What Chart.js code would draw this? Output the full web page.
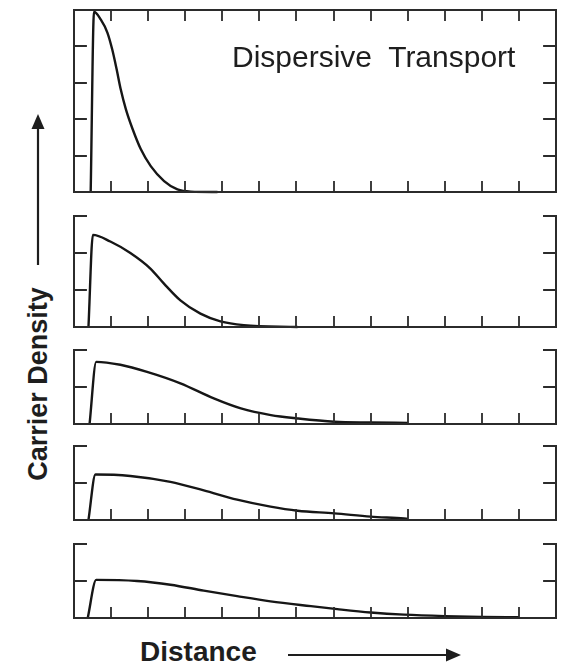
<!DOCTYPE html>
<html>
<head>
<meta charset="utf-8">
<script src="https://cdn.jsdelivr.net/npm/chart.js@4.4.1/dist/chart.umd.min.js"></script>
<style>
  html, body { margin: 0; padding: 0; background: #fff; }
  #page { position: relative; width: 565px; height: 667px; overflow: hidden; font-family: "Liberation Sans", Arial, sans-serif; color: #1e1e1e; }
  canvas { position: absolute; }
  .lbl { position: absolute; line-height: 1; white-space: pre; }
  #note { left: 232px; top: 42px; font-size: 30px; }
  #ylab { left: 38px; top: 384px; font-size: 27px; font-weight: bold; transform: translate(-50%, -50%) rotate(-90deg); }
  #xlab { left: 140px; top: 638px; font-size: 28px; font-weight: bold; }
  #arrows { position: absolute; left: 0; top: 0; }
</style>
</head>
<body>
<div id="page">
  <canvas id="p1"></canvas>
  <canvas id="p2"></canvas>
  <canvas id="p3"></canvas>
  <canvas id="p4"></canvas>
  <canvas id="p5"></canvas>
  <div class="lbl" id="note">Dispersive  Transport</div>
  <div class="lbl" id="ylab">Carrier Density</div>
  <div class="lbl" id="xlab">Distance</div>
  <svg id="arrows" width="565" height="667">
    <line x1="38" y1="265" x2="38" y2="126" stroke="#1e1e1e" stroke-width="2.2"/>
    <polygon points="38,114 31.5,129 44.5,129" fill="#1e1e1e"/>
    <line x1="288" y1="655" x2="449" y2="655" stroke="#1e1e1e" stroke-width="2.2"/>
    <polygon points="461,655 446,648.5 446,661.5" fill="#1e1e1e"/>
  </svg>
</div>
<script>
// distance (x) in tick units, 0..13
const xTicks = [1, 2, 3, 4, 5, 6, 7, 8, 9, 10, 11, 12];

// panel 1 (earliest time)
const dist1 = [0.45, 0.54, 0.72, 0.90, 1.03, 1.15, 1.26, 1.40, 1.58, 1.80, 2.07, 2.43, 2.79, 3.15, 3.87];
const dens1 = [0, 4.95, 4.74, 4.38, 3.92, 3.37, 2.82, 2.27, 1.73, 1.18, 0.71, 0.30, 0.07, 0.01, 0];
const yTicks1 = [1, 2, 3, 4];

// panel 2
const dist2 = [0.39, 0.51, 0.98, 1.52, 2.06, 2.42, 2.87, 3.41, 3.95, 4.58, 6.03];
const dens2 = [0, 2.49, 2.31, 2.00, 1.58, 1.18, 0.72, 0.36, 0.15, 0.05, 0];
const yTicks2 = [1, 2];

// panel 3
const dist3 = [0.42, 0.60, 1.25, 1.97, 2.87, 3.77, 4.50, 5.31, 6.03, 7.02, 8.0, 9.0];
const dens3 = [0, 1.68, 1.60, 1.41, 1.10, 0.69, 0.42, 0.24, 0.15, 0.06, 0.04, 0.03];
const yTicks3 = [1];

// panel 4
const dist4 = [0.39, 0.58, 1.52, 2.60, 3.50, 4.40, 5.30, 6.03, 7.02, 8.0, 8.9, 9.0];
const dens4 = [0, 1.23, 1.19, 1.03, 0.80, 0.55, 0.36, 0.25, 0.18, 0.09, 0.04, 0.03];
const yTicks4 = [1];

// panel 5 (latest time)
const dist5 = [0.37, 0.60, 1.70, 2.60, 3.50, 4.40, 5.30, 6.39, 7.10, 8.0, 8.9, 10.0, 11.0, 12.0];
const dens5 = [0, 1.03, 1.00, 0.90, 0.74, 0.59, 0.45, 0.32, 0.24, 0.15, 0.09, 0.05, 0.03, 0.02];
const yTicks5 = [1];

const PAD = 6;
const LEFT = 74, RIGHT = 556;

const framePlugin = {
  id: 'frame',
  afterDatasetsDraw(chart, args, opts) {
    const { ctx, chartArea: a, scales: { x, y } } = chart;
    const tx = 10, ty = 12; // tick lengths (vertical / horizontal)
    ctx.save();
    ctx.strokeStyle = '#2b2b2b';
    ctx.lineWidth = 2;
    ctx.lineCap = 'square';
    ctx.beginPath();
    ctx.moveTo(a.left, a.top);
    ctx.lineTo(a.left, a.bottom);
    ctx.lineTo(a.right, a.bottom);
    ctx.lineTo(a.right, a.top);
    if (opts.closed) {
      ctx.lineTo(a.left, a.top);
    } else {
      ctx.lineTo(a.right - ty, a.top);
      ctx.moveTo(a.left, a.top);
      ctx.lineTo(a.left + ty, a.top);
    }
    ctx.stroke();

    ctx.lineWidth = 1.8;
    ctx.beginPath();
    xTicks.forEach(v => {
      const px = Math.round(x.getPixelForValue(v));
      ctx.moveTo(px, a.bottom);
      ctx.lineTo(px, a.bottom - tx);
      if (opts.closed) {
        ctx.moveTo(px, a.top);
        ctx.lineTo(px, a.top + tx);
      }
    });
    opts.yTicks.forEach(v => {
      const py = Math.round(y.getPixelForValue(v));
      ctx.moveTo(a.left, py);
      ctx.lineTo(a.left + ty, py);
      ctx.moveTo(a.right, py);
      ctx.lineTo(a.right - ty, py);
    });
    ctx.stroke();
    ctx.restore();
  }
};

function makePanel(id, top, bottom, yMax, dist, dens, yTicks, closed) {
  const cv = document.getElementById(id);
  cv.width = RIGHT - LEFT + 2 * PAD;
  cv.height = bottom - top + 2 * PAD;
  cv.style.left = (LEFT - PAD) + 'px';
  cv.style.top = (top - PAD) + 'px';
  return new Chart(cv, {
    type: 'line',
    data: {
      datasets: [{
        data: dist.map((d, i) => ({ x: d, y: dens[i] })),
        borderColor: '#161616',
        borderWidth: 2.4,
        pointRadius: 0,
        fill: false,
        cubicInterpolationMode: 'monotone',
        clip: 4
      }]
    },
    options: {
      responsive: false,
      animation: false,
      layout: { padding: PAD },
      plugins: {
        legend: { display: false },
        tooltip: { enabled: false },
        frame: { closed: closed, yTicks: yTicks }
      },
      scales: {
        x: { type: 'linear', min: 0, max: 13, display: false },
        y: { type: 'linear', min: 0, max: yMax, display: false }
      }
    },
    plugins: [framePlugin]
  });
}

makePanel('p1', 10, 192, 5, dist1, dens1, yTicks1, true);
makePanel('p2', 216, 327, 3, dist2, dens2, yTicks2, false);
makePanel('p3', 350, 424, 2, dist3, dens3, yTicks3, false);
makePanel('p4', 446, 520, 2, dist4, dens4, yTicks4, false);
makePanel('p5', 544, 618, 2, dist5, dens5, yTicks5, false);
</script>
</body>
</html>
